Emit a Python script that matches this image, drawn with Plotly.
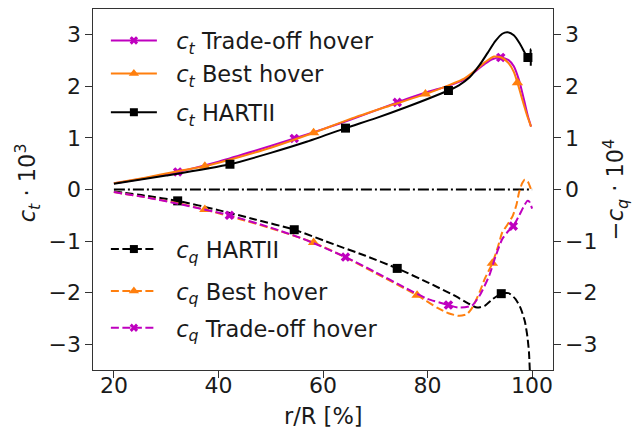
import plotly.graph_objects as go

# ---------------- data ----------------
# c_t curves (x in r/R %, y in c_t*1e3)
r_ct_trade = [20, 26, 32.2, 40, 47, 54.5, 60, 66, 74.2, 80, 84, 87, 89, 91, 92.5, 94, 95.5, 96.5, 97.5, 98.5, 99.2, 99.8]
ct_trade = [0.12, 0.22, 0.34, 0.54, 0.75, 0.99, 1.17, 1.38, 1.69, 1.89, 2.01, 2.13, 2.28, 2.44, 2.53, 2.56, 2.51, 2.39, 2.12, 1.72, 1.42, 1.22]
mk_ct_trade = [32.2, 54.5, 74.2, 94]

r_ct_best = [20, 26, 32, 37.4, 44, 50, 58.2, 65, 72, 79.6, 84, 87, 89, 91, 92.7, 94.3, 95.5, 96.5, 97.2, 98.2, 99, 99.8]
ct_best = [0.12, 0.23, 0.35, 0.45, 0.63, 0.81, 1.10, 1.36, 1.60, 1.85, 2.02, 2.15, 2.30, 2.47, 2.58, 2.55, 2.45, 2.28, 2.07, 1.72, 1.45, 1.22]
mk_ct_best = [37.4, 58.2, 79.6, 97.2]

r_ct_hart = [20, 30, 42.2, 50, 57, 64.3, 70, 76, 84, 86, 88, 90, 91.5, 93, 94.3, 95.3, 96.5, 97.7, 98.6, 99.2, 99.6, 99.75, 99.75]
ct_hart = [0.11, 0.27, 0.49, 0.71, 0.93, 1.19, 1.38, 1.60, 1.92, 2.02, 2.17, 2.42, 2.65, 2.88, 3.02, 3.05, 2.99, 2.82, 2.65, 2.56, 2.58, 2.72, 2.40]
mk_ct_hart = [42.2, 64.3, 84, 99.2]

# c_q curves (y in c_q*1e4, shown on the same scale)
r_cq_hart = [20, 26, 32.2, 40, 47, 54.5, 62, 68, 74.2, 80, 85, 88, 89.5, 91, 92.5, 94.1, 95.5, 96.8, 97.8, 98.6, 99.1, 99.4, 99.6]
cq_hart = [-0.04, -0.12, -0.22, -0.40, -0.58, -0.78, -1.06, -1.28, -1.53, -1.80, -2.05, -2.22, -2.29, -2.25, -2.12, -2.02, -2.01, -2.12, -2.30, -2.55, -2.85, -3.15, -3.6]
mk_cq_hart = [32.2, 54.5, 74.2, 94.1]

r_cq_best = [20, 26, 32, 37.4, 45, 50, 58.2, 65, 70, 78, 82, 84, 86, 87.5, 88.5, 90, 91, 92.4, 93.5, 94.3, 95.3, 96.3, 97, 97.5, 98.1, 98.6, 99.2, 99.8]
cq_best = [-0.05, -0.15, -0.26, -0.39, -0.60, -0.75, -1.03, -1.35, -1.62, -2.05, -2.30, -2.40, -2.45, -2.42, -2.30, -1.98, -1.72, -1.43, -1.10, -0.83, -0.68, -0.51, -0.30, -0.06, 0.12, 0.19, 0.15, 0.0]
mk_cq_best = [37.4, 58.2, 78, 92.4]

r_cq_trade = [20, 26, 32, 42.1, 50, 56, 64.3, 70, 76, 80, 84, 86, 88.5, 90, 91.8, 93, 94.3, 95.5, 96.4, 97.5, 98.3, 99.1, 99.5, 100]
cq_trade = [-0.05, -0.15, -0.27, -0.50, -0.74, -0.95, -1.31, -1.60, -1.92, -2.12, -2.24, -2.29, -2.25, -2.05, -1.67, -1.30, -0.96, -0.80, -0.71, -0.51, -0.35, -0.22, -0.24, -0.37]
mk_cq_trade = [42.1, 64.3, 84, 96.4]

zero_r = [20, 100]
zero_v = [0, 0]

x_ticks = [20, 40, 60, 80, 100]
y_ticks = [-3, -2, -1, 0, 1, 2, 3]

x_title = "r/R [%]"
y_title = "<i>c<sub>t</sub></i> · 10<sup>3</sup>"
y2_title = "−<i>c<sub>q</sub></i> · 10<sup>4</sup>"

# ---------------- styling ----------------
MAG = "#bf00bf"
ORA = "#ff7f0e"
BLK = "#000000"
FONT = "DejaVu Sans"
TXT = "#1a1a1a"
AX = "#333333"
DASH = "8px,3.5px"
SP = "\u00a0\u00a0"

series = [
    # x, y, markers-at, color, symbol, dash, label, legend id
    (r_ct_trade, ct_trade, mk_ct_trade, MAG, "x", "solid", SP + "<i>c<sub>t</sub></i> Trade-off hover", "legend"),
    (r_ct_best, ct_best, mk_ct_best, ORA, "triangle-up", "solid", SP + "<i>c<sub>t</sub></i> Best hover", "legend2"),
    (r_ct_hart, ct_hart, mk_ct_hart, BLK, "square", "solid", SP + "<i>c<sub>t</sub></i> HARTII", "legend3"),
    (r_cq_hart, cq_hart, mk_cq_hart, BLK, "square", DASH, SP + "<i>c<sub>q</sub></i> HARTII", "legend4"),
    (r_cq_best, cq_best, mk_cq_best, ORA, "triangle-up", DASH, SP + "<i>c<sub>q</sub></i> Best hover", "legend5"),
    (r_cq_trade, cq_trade, mk_cq_trade, MAG, "x", DASH, SP + "<i>c<sub>q</sub></i> Trade-off hover", "legend6"),
]
MSIZE = {"x": 8.5, "triangle-up": 10, "square": 9}

fig = go.Figure()

fig.add_trace(go.Scatter(x=zero_r, y=zero_v, mode="lines",
                         line=dict(color=BLK, width=1.8, dash="11px,3px,2px,3px"),
                         showlegend=False, hoverinfo="skip"))

draw_order = [3, 4, 5, 0, 1, 2]
for i in draw_order:
    xs, ys, mk, col, sym, dash, label, lg = series[i]
    sizes = [MSIZE[sym] if x in mk else 0 for x in xs]
    fig.add_trace(go.Scatter(
        x=xs, y=ys, mode="lines+markers",
        line=dict(color=col, width=2, dash=dash, shape="spline", smoothing=0.6),
        marker=dict(color=col, symbol=sym, size=sizes, opacity=1, line=dict(width=0)),
        showlegend=False))

for xs, ys, mk, col, sym, dash, label, lg in series:
    fig.add_trace(go.Scatter(
        x=[None], y=[None], mode="lines+markers", name=label,
        line=dict(color=col, width=2, dash=dash),
        marker=dict(color=col, symbol=sym, size=MSIZE[sym] - 1, opacity=1),
        legend=lg, showlegend=True))

leg_y = {"legend": 0.912, "legend2": 0.820, "legend3": 0.713,
         "legend4": 0.334, "legend5": 0.218, "legend6": 0.116}
legends = {}
for key, yv in leg_y.items():
    legends[key] = dict(x=0.028, y=yv, xanchor="left", yanchor="middle",
                        bgcolor="rgba(0,0,0,0)", borderwidth=0,
                        font=dict(family=FONT, size=22.5, color=TXT),
                        itemwidth=46, tracegroupgap=0)

axis_common = dict(ticks="outside", ticklen=6.5, tickwidth=1.3, tickcolor=AX,
                   showline=True, linecolor=AX, linewidth=1.3, showgrid=False,
                   zeroline=False, automargin=False,
                   tickfont=dict(family=FONT, size=22, color=TXT))

fig.update_layout(
    width=639, height=428,
    margin=dict(l=93, r=86, t=9, b=58),
    paper_bgcolor="white", plot_bgcolor="white",
    font=dict(family=FONT, size=22, color=TXT),
    # x axis: line + tick marks (labels drawn by the overlaid x2 so they sit closer)
    xaxis=dict(range=[16, 104], tickvals=x_ticks, mirror=True,
               showticklabels=False, **axis_common),
    xaxis2=dict(range=[16, 104], tickvals=x_ticks, overlaying="x", side="bottom",
                anchor="y", ticks="", showline=False, showgrid=False, zeroline=False,
                automargin=False, showticklabels=True,
                tickfont=dict(family=FONT, size=22, color=TXT)),
    yaxis=dict(range=[-3.5, 3.5], tickvals=y_ticks, mirror=True, **axis_common),
    yaxis2=dict(range=[-3.5, 3.5], tickvals=y_ticks, overlaying="y", side="right",
                **axis_common),
    **legends,
)

title_font = dict(family=FONT, size=22.5, color=TXT)
fig.add_annotation(text=x_title, xref="paper", yref="paper", x=0.5, y=-0.128,
                   xanchor="center", yanchor="middle", showarrow=False, font=title_font)
fig.add_annotation(text=y_title, xref="paper", yref="paper", x=-0.1435, y=0.52,
                   xanchor="center", yanchor="middle", textangle=-90,
                   showarrow=False, font=title_font)
fig.add_annotation(text=y2_title, xref="paper", yref="paper", x=1.1348, y=0.498,
                   xanchor="center", yanchor="middle", textangle=-90,
                   showarrow=False, font=title_font)

# invisible traces to activate the overlay axes
fig.add_trace(go.Scatter(x=zero_r, y=zero_v, yaxis="y2", mode="lines",
                         line=dict(width=0, color="rgba(0,0,0,0)"),
                         showlegend=False, hoverinfo="skip"))
fig.add_trace(go.Scatter(x=zero_r, y=zero_v, xaxis="x2", mode="lines",
                         line=dict(width=0, color="rgba(0,0,0,0)"),
                         showlegend=False, hoverinfo="skip"))

fig.write_html("out.html")
